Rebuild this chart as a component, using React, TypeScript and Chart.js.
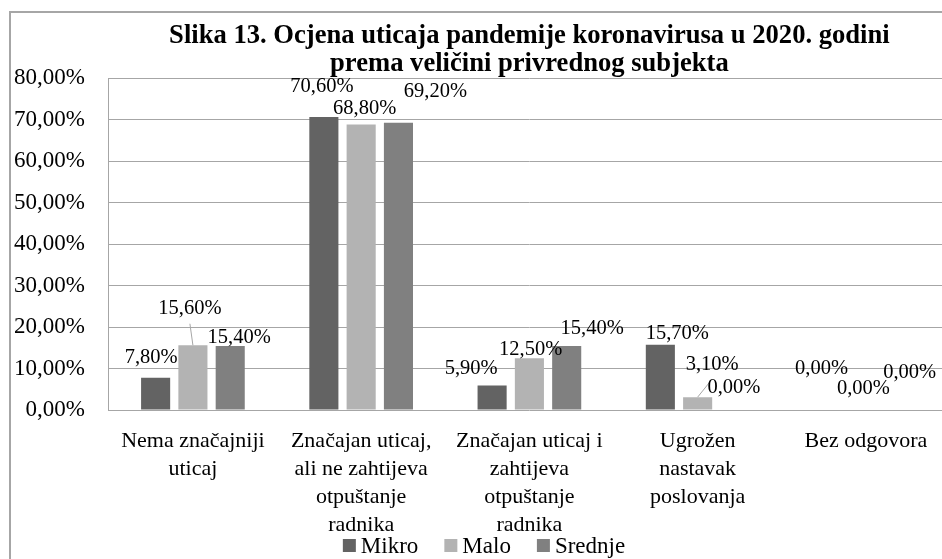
import React, { useEffect, useRef } from "react";
import { Chart, registerables } from "chart.js";

Chart.register(...registerables);

const categories: string[][] = [
  ["Nema značajniji", "uticaj"],
  ["Značajan uticaj,", "ali ne zahtijeva", "otpuštanje", "radnika"],
  ["Značajan uticaj i", "zahtijeva", "otpuštanje", "radnika"],
  ["Ugrožen", "nastavak", "poslovanja"],
  ["Bez odgovora"],
];

const seriesNames = ["Mikro", "Malo", "Srednje"];
const mikro = [7.8, 70.6, 5.9, 15.7, 0.0];
const malo = [15.6, 68.8, 12.5, 3.1, 0.0];
const srednje = [15.4, 69.2, 15.4, 0.0, 0.0];

const yMin = 0;
const yMax = 80;
const yStep = 10;

const titleLines = [
  "Slika 13. Ocjena uticaja pandemije koronavirusa u 2020. godini",
  "prema veličini privrednog subjekta",
];

const colors = ["#636363", "#b3b3b3", "#808080"];

// label placement relative to bar top (dx, dy of label centre)
const labelOffsets: number[][][] = [
  [[-4.5, -20], [-2, -30.7], [-21, -16.6], [17, -11], [-7, -41]],
  [[-3, -36.5], [3.5, -16.3], [1.3, -9], [14.5, -33], [-2.5, -21]],
  [[9, -8], [37, -31.5], [25.5, -17], [-1, -22], [6.5, -37]],
];
const leaderLines: number[][] = [[], [0, 3], []];

const FONT = "'Liberation Serif', 'Times New Roman', serif";

const fmt = (v: number) => v.toFixed(2).replace(".", ",") + "%";

const dataLabelPlugin = {
  id: "dataLabels",
  afterDatasetsDraw(chart: any) {
    const ctx = chart.ctx;
    ctx.save();
    ctx.font = `20.5px ${FONT}`;
    ctx.fillStyle = "#000";
    ctx.textAlign = "center";
    ctx.textBaseline = "middle";
    chart.data.datasets.forEach((ds: any, di: number) => {
      const meta = chart.getDatasetMeta(di);
      meta.data.forEach((el: any, i: number) => {
        const off = labelOffsets[di][i];
        const lx = el.x + off[0];
        const ly = el.y + off[1];
        if (leaderLines[di].includes(i)) {
          ctx.save();
          ctx.strokeStyle = "#a6a6a6";
          ctx.lineWidth = 1;
          ctx.beginPath();
          ctx.moveTo(lx, ly + 15);
          ctx.lineTo(el.x, el.y);
          ctx.stroke();
          ctx.restore();
        }
        ctx.fillText(fmt(ds.data[i]), lx, ly);
      });
    });
    ctx.restore();
  },
};

const legendPlugin = {
  id: "customLegend",
  afterDraw(chart: any) {
    const ctx = chart.ctx;
    ctx.save();
    ctx.font = `23px ${FONT}`;
    ctx.textBaseline = "middle";
    ctx.textAlign = "left";
    const sq = 13;
    const gapSq = 5;
    const gapItem = 26;
    const items = chart.data.datasets.map((ds: any) => ({
      label: ds.label,
      color: ds.backgroundColor,
      w: sq + gapSq + ctx.measureText(ds.label).width,
    }));
    const total =
      items.reduce((a: number, it: any) => a + it.w, 0) + gapItem * (items.length - 1);
    const cx = 473;
    const cy = 532.5;
    let x = cx - total / 2;
    items.forEach((it: any) => {
      ctx.fillStyle = it.color;
      ctx.fillRect(x, cy - sq / 2, sq, sq);
      ctx.fillStyle = "#000";
      ctx.fillText(it.label, x + sq + gapSq, cy + 1);
      x += it.w + gapItem;
    });
    ctx.restore();
  },
};

export default function App() {
  const ref = useRef<HTMLCanvasElement | null>(null);

  useEffect(() => {
    if (!ref.current) return;
    const values = [mikro, malo, srednje];
    const chart = new Chart(ref.current, {
      type: "bar",
      data: {
        labels: categories,
        datasets: seriesNames.map((name, i) => ({
          label: name,
          data: values[i],
          backgroundColor: colors[i],
          borderWidth: 0,
          barPercentage: 0.78,
          categoryPercentage: 0.665,
        })),
      },
      options: {
        responsive: false,
        animation: false,
        layout: { padding: { left: 0, right: 94, top: 0, bottom: 17 } },
        plugins: {
          legend: { display: false },
          tooltip: { enabled: false },
          title: {
            display: true,
            fullSize: false,
            text: titleLines,
            color: "#000",
            font: { family: FONT, size: 26.6, weight: "bold", lineHeight: 28 / 26.6 },
            padding: { top: 9, bottom: 0 },
          },
        },
        scales: {
          x: {
            grid: { display: false, drawTicks: false },
            border: { display: false },
            ticks: {
              color: "#000",
              font: { family: FONT, size: 22, lineHeight: 28 / 22 },
              padding: 17,
              autoSkip: false,
              maxRotation: 0,
              minRotation: 0,
            },
          },
          y: {
            min: yMin,
            max: yMax,
            grid: { color: "#a6a6a6", lineWidth: 1, drawTicks: false },
            border: { display: true, color: "#a6a6a6", width: 1 },
            ticks: {
              stepSize: yStep,
              color: "#000",
              font: { family: FONT, size: 23 },
              padding: 24,
              callback: (v: any) => fmt(Number(v)),
            },
            afterFit: (s: any) => {
              s.width = 97.8;
            },
          },
        },
      },
      plugins: [dataLabelPlugin, legendPlugin],
    });
    return () => chart.destroy();
  }, []);

  return (
    <div
      style={{
        position: "fixed",
        left: 0,
        top: 0,
        width: 942,
        height: 559,
        overflow: "hidden",
        background: "#fff",
      }}
    >
      <div
        style={{
          position: "absolute",
          left: 9,
          top: 11,
          width: 1040,
          height: 600,
          border: "2px solid #a6a6a6",
          boxSizing: "border-box",
        }}
      />
      <div style={{ position: "absolute", left: 11, top: 13 }}>
        <canvas ref={ref} width={1033} height={560} style={{ display: "block" }} />
      </div>
    </div>
  );
}
